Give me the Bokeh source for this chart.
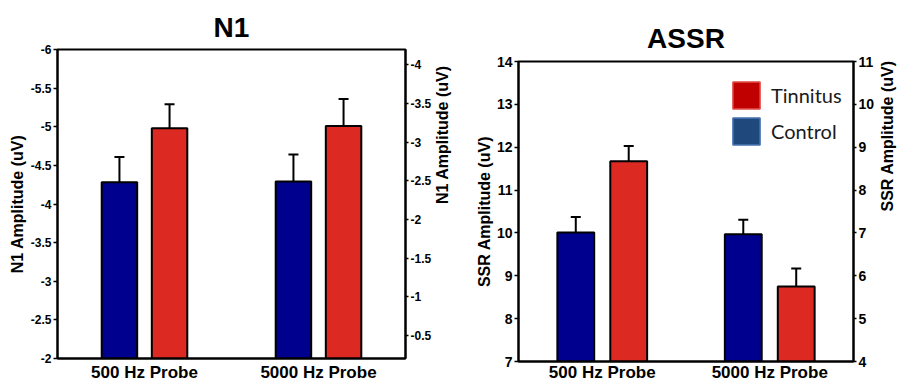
import math
from bokeh.plotting import figure
from bokeh.models import (FactorRange, Range1d, LinearAxis, FixedTicker,
                          CustomJSTickFormatter, Legend, LegendItem, ColumnDataSource)
from bokeh.transform import dodge
from bokeh.layouts import row, column
from bokeh.embed import file_html
from bokeh.resources import INLINE

# ---------------- data ----------------
probes = ["500 Hz Probe", "5000 Hz Probe"]

n1_control = [-4.28, -4.29]
n1_control_sem = [0.33, 0.35]
n1_tinnitus = [-4.98, -5.01]
n1_tinnitus_sem = [0.31, 0.35]

assr_control = [10.01, 9.97]
assr_control_sem = [0.36, 0.34]
assr_tinnitus = [11.67, 8.75]
assr_tinnitus_sem = [0.36, 0.42]

n1_left_ticks = [-6, -5.5, -5, -4.5, -4, -3.5, -3, -2.5, -2]
n1_right_ticks = [-4, -3.5, -3, -2.5, -2, -1.5, -1, -0.5]
assr_left_ticks = [7, 8, 9, 10, 11, 12, 13, 14]
assr_right_ticks = [4, 5, 6, 7, 8, 9, 10, 11]

legend_labels = ["Tinnitus", "Control"]

# ---------------- style ----------------
FONT = "Liberation Sans"
BAR_BLUE = "#00008f"
BAR_RED = "#dc2a22"
LEG_RED = "#c00000"
LEG_RED_EDGE = "#e2504c"
LEG_BLUE = "#1f497d"
LEG_BLUE_EDGE = "#4a76b4"

FMT = "return String(Math.round(tick*10)/10)"
H = 384


def style_axis(ax, tick_font, tick_out, label_standoff, axis_label_standoff):
    ax.axis_line_width = 2
    ax.axis_line_color = "black"
    ax.major_tick_line_width = 1.5
    ax.major_tick_line_color = "black"
    ax.major_tick_in = 0
    ax.major_tick_out = tick_out
    ax.minor_tick_line_color = None
    ax.major_label_text_font = FONT
    ax.major_label_text_font_style = "bold"
    ax.major_label_text_font_size = tick_font
    ax.major_label_text_color = "black"
    ax.major_label_standoff = label_standoff
    ax.axis_label_text_font = FONT
    ax.axis_label_text_font_style = "bold"
    ax.axis_label_text_font_size = "16px"
    ax.axis_label_text_color = "black"
    ax.axis_label_standoff = axis_label_standoff


def make_chart(title, ctrl, ctrl_sem, tin, tin_sem, sign, yr, yr2, lt, rt,
               ylabel, width, bl, br, bt, bb, x_std, t_std, tick_font,
               bar_w, off, l_std, r_std):
    p = figure(x_range=FactorRange(factors=probes, range_padding=0),
               y_range=Range1d(*yr), width=width, height=H,
               output_backend="svg", toolbar_location=None,
               min_border_left=bl, min_border_right=br, min_border_top=bt,
               min_border_bottom=bb)
    p.background_fill_color = "white"
    p.border_fill_color = "white"
    p.outline_line_color = "black"
    p.outline_line_width = 2
    p.xgrid.visible = False
    p.ygrid.visible = False

    src = ColumnDataSource(dict(
        probe=probes,
        ctrl=ctrl,
        ctrl_err=[v + sign * s for v, s in zip(ctrl, ctrl_sem)],
        tin=tin,
        tin_err=[v + sign * s for v, s in zip(tin, tin_sem)],
    ))
    for col, o, color in (("ctrl", -off, BAR_BLUE), ("tin", off, BAR_RED)):
        xd = dodge("probe", o, range=p.x_range)
        p.vbar(x=xd, top=col, bottom=yr[0], width=bar_w, source=src,
               fill_color=color, line_color="black", line_width=2)
        p.segment(x0=xd, y0=col, x1=xd, y1=col + "_err", source=src,
                  line_color="black", line_width=2)
        p.scatter(x=xd, y=col + "_err", source=src, marker="dash", size=10,
                  line_color="black", line_width=2)

    p.title.text = title
    p.title.align = "center"
    p.title.text_font = FONT
    p.title.text_font_size = "28px"
    p.title.text_font_style = "bold"
    p.title.text_color = "black"
    p.title.standoff = t_std

    # x axis (categories)
    xa = p.xaxis[0]
    style_axis(xa, "17px", 0, x_std, 0)
    xa.major_tick_line_color = None

    # left y axis
    ya = p.yaxis[0]
    style_axis(ya, tick_font, 4, 2, l_std)
    ya.ticker = FixedTicker(ticks=lt)
    ya.formatter = CustomJSTickFormatter(code=FMT)
    ya.axis_label = ylabel

    # right y axis, label reading upwards like the left one
    p.extra_y_ranges = {"r": Range1d(*yr2)}
    ra = LinearAxis(y_range_name="r")
    style_axis(ra, tick_font, 3, 2, r_std)
    ra.ticker = FixedTicker(ticks=rt)
    ra.formatter = CustomJSTickFormatter(code=FMT)
    ra.axis_label = ylabel
    ra.axis_label_orientation = math.pi / 2
    p.add_layout(ra, "right")
    return p


p1 = make_chart("N1", n1_control, n1_control_sem, n1_tinnitus, n1_tinnitus_sem,
                -1, (-2, -6), (-0.2, -4.2), n1_left_ticks, n1_right_ticks,
                "N1 Amplitude (uV)", 462, 57, 52, 49, 24, 4, 14, "12px",
                0.204, 0.144, 2, 8)

p2 = make_chart("ASSR", assr_control, assr_control_sem, assr_tinnitus,
                assr_tinnitus_sem, 1, (7, 14), (4, 11), assr_left_ticks,
                assr_right_ticks, "SSR Amplitude (uV)", 445, 56, 49, 61, 21, 1,
                16, "14px", 0.22, 0.158, 1, 10)

# legend (separate swatches, as in the figure)
nan = float("nan")
r_t = p2.quad(left=[nan], right=[nan], top=[nan], bottom=[nan],
              fill_color=LEG_RED, line_color=LEG_RED_EDGE, line_width=1.5)
r_c = p2.quad(left=[nan], right=[nan], top=[nan], bottom=[nan],
              fill_color=LEG_BLUE, line_color=LEG_BLUE_EDGE, line_width=1.5)
leg = Legend(items=[LegendItem(label=legend_labels[0], renderers=[r_t]),
                    LegendItem(label=legend_labels[1], renderers=[r_c])],
             location=(211, 213))
leg.padding = 0
leg.margin = 0
leg.spacing = 2
leg.glyph_width = 34
leg.glyph_height = 34
leg.label_height = 34
leg.label_standoff = 8
leg.label_text_font = "Lato"
leg.label_text_font_size = "20px"
leg.label_text_color = "#1a1a1a"
leg.border_line_color = None
leg.background_fill_alpha = 0
p2.add_layout(leg)

layout = row(column(p1), column(p2))
open("out.html", "w").write(file_html(layout, INLINE))
